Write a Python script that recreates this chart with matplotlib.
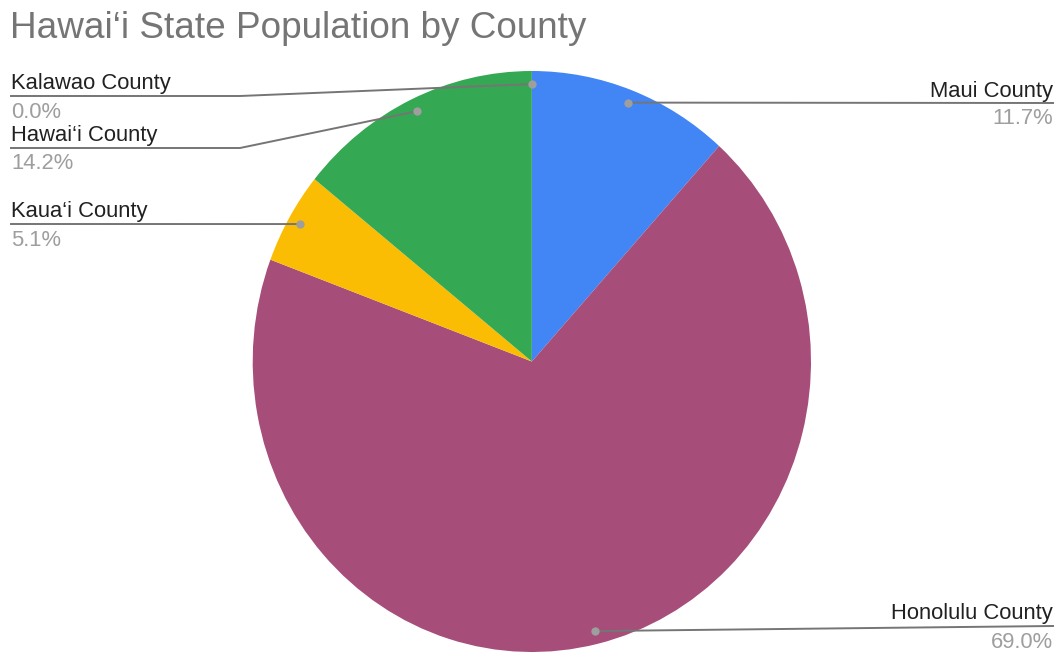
import numpy as np
import matplotlib
matplotlib.use("Agg")
import matplotlib.pyplot as plt
from matplotlib.lines import Line2D

# Population share by county (percent)
counties = ["Maui County", "Honolulu County", "Kaua\u2018i County", "Hawai\u2018i County", "Kalawao County"]
shares = [11.7, 69.0, 5.1, 14.2, 0.0]
colors = ["#4285F4", "#A64D79", "#FBBC04", "#34A853", "#FF6D01"]

W, H = 1058, 654
fig = plt.figure(figsize=(W / 100, H / 100), dpi=100)
fig.patch.set_facecolor("white")

FONT = "Liberation Sans"

def frac(x, y):
    """pixel position measured from the top-left corner -> figure fraction"""
    return x / W, 1 - y / H

# pie area (pixels)
px_l, px_r, px_t, px_b = 252.7, 811.0, 71.0, 652.0
ax = fig.add_axes([px_l / W, 1 - px_b / H, (px_r - px_l) / W, (px_b - px_t) / H])
wedges, _ = ax.pie(shares, colors=colors, startangle=90, counterclock=False,
                   radius=1.0, wedgeprops=dict(linewidth=0))
ax.set_xlim(-1, 1)
ax.set_ylim(-1, 1)
ax.set_aspect("auto")
ax.axis("off")

fig.text(*frac(10, 38.5), "Hawai\u2018i State Population by County", fontsize=26.6,
         family=FONT, color="#757575", ha="left", va="baseline")

# leader-line layout: side, line-end points (pixels)
layout = {
    "Maui County": ("right", [(1053, 103)]),
    "Honolulu County": ("right", [(1053, 626)]),
    "Kaua\u2018i County": ("left", [(11, 224)]),
    "Hawai\u2018i County": ("left", [(240, 148), (11, 148)]),
    "Kalawao County": ("left", [(240, 96), (11, 96)]),
}

fig.canvas.draw()
total = sum(shares)
start = 90.0
line_col = "#757575"
for name, val in zip(counties, shares):
    sweep = 360.0 * val / total
    mid = np.deg2rad(start - sweep / 2)
    start -= sweep
    r = 0.955
    disp = ax.transData.transform((r * np.cos(mid), r * np.sin(mid)))
    dx, dy = fig.transFigure.inverted().transform(disp)
    side, pts = layout[name]
    xs = [dx] + [frac(*p)[0] for p in pts]
    ys = [dy] + [frac(*p)[1] for p in pts]
    fig.add_artist(Line2D(xs, ys, transform=fig.transFigure, color=line_col, lw=1.4))
    fig.add_artist(Line2D([dx], [dy], transform=fig.transFigure, marker="o",
                          ms=6, color="#9E9E9E", mec="none"))
    ex, ey = pts[-1]
    ha = "left" if side == "left" else "right"
    fig.text(*frac(ex, ey - 6.5), name, fontsize=15.8, family=FONT,
             color="#212121", ha=ha, va="baseline")
    fig.text(*frac(ex, ey + 21.5), f"{val:.1f}%", fontsize=15.8, family=FONT,
             color="#9E9E9E", ha=ha, va="baseline")

fig.savefig("out.png", dpi=100, facecolor="white")
